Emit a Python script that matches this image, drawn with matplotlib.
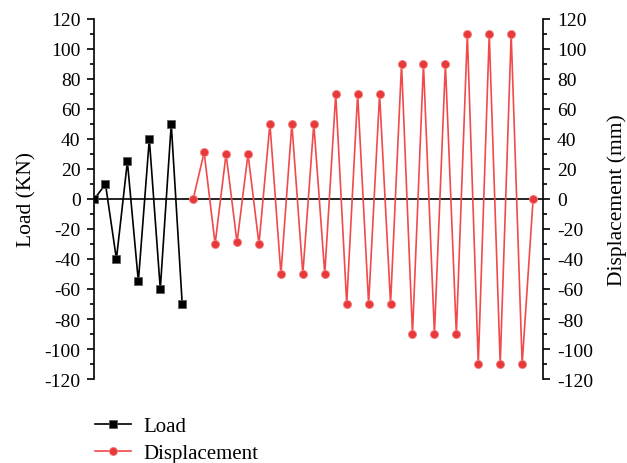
import numpy as np
import matplotlib
matplotlib.use("Agg")
import matplotlib.pyplot as plt
from matplotlib.ticker import MultipleLocator

# data (step index on x)
load_x = list(range(0, 9))
load_y = [0, 10, -40, 25, -55, 40, -60, 50, -70]

disp_x = list(range(9, 41))
disp_y = [0, 31, -30, 30, -29, 30, -30,
          50, -50, 50, -50, 50, -50,
          70, -70, 70, -70, 70, -70,
          90, -90, 90, -90, 90, -90,
          110, -110, 110, -110, 110, -110,
          0]

plt.rcParams["font.family"] = ["Liberation Serif", "DejaVu Serif"]
plt.rcParams["axes.unicode_minus"] = False

fig = plt.figure(figsize=(6.27, 4.64), dpi=100)
ax = fig.add_axes([0.1507, 0.181, 0.7153, 0.776])

ax.axhline(0, color="black", lw=1.2, zorder=1)

ln1, = ax.plot(load_x, load_y, color="black", lw=1.2, marker="s",
               markersize=5.3, markeredgecolor="#555555", markeredgewidth=0.5,
               label="Load", zorder=3)
ln2, = ax.plot(disp_x, disp_y, color="#f04a4a", lw=1.2, marker="o",
               markersize=5.8, markerfacecolor="#e8393a",
               markeredgecolor="#f48080", markeredgewidth=0.6,
               label="Displacement", zorder=2)

ax.set_xlim(0, 40.9)
ax.set_ylim(-120, 120)
ax.set_xticks([])
for s in ("top", "bottom"):
    ax.spines[s].set_visible(False)
ax.spines["right"].set_visible(False)
ax.spines["left"].set_linewidth(1.2)

ax.yaxis.set_major_locator(MultipleLocator(20))
ax.yaxis.set_minor_locator(MultipleLocator(10))
ax.tick_params(axis="y", which="major", direction="out", length=5, width=1.2,
               labelsize=14, pad=5)
ax.tick_params(axis="y", which="minor", direction="out", length=3, width=1.2)
ax.set_ylabel("Load (KN)", fontsize=15.5, labelpad=6)

ax2 = ax.twinx()
ax2.set_ylim(-120, 120)
for s in ("top", "bottom", "left"):
    ax2.spines[s].set_visible(False)
ax2.spines["right"].set_linewidth(1.2)
ax2.yaxis.set_major_locator(MultipleLocator(20))
ax2.yaxis.set_minor_locator(MultipleLocator(10))
ax2.tick_params(axis="y", which="major", direction="out", length=5, width=1.2,
                labelsize=14, pad=5)
ax2.tick_params(axis="y", which="minor", direction="out", length=3, width=1.2)
ax2.set_ylabel("Displacement (mm)", fontsize=15.5, labelpad=10)

fig.legend(handles=[ln1, ln2], loc="upper left", bbox_to_anchor=(0.122, 0.14),
           frameon=False, fontsize=15, handlelength=1.7, labelspacing=0.35,
           handletextpad=0.6)

fig.savefig("out.png", dpi=100)
